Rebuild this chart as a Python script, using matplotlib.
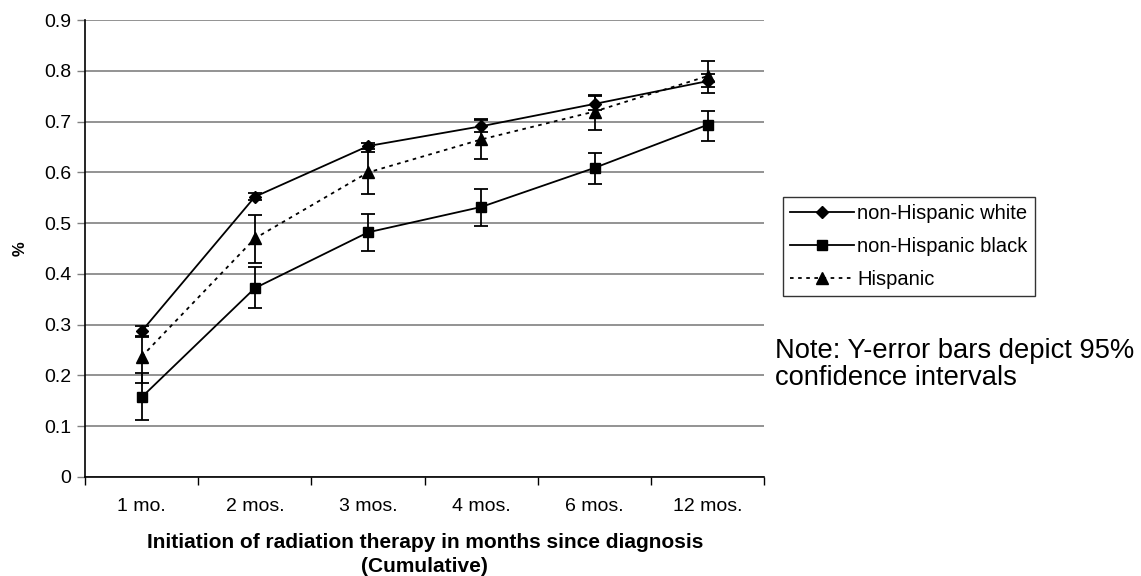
import numpy as np
import matplotlib.pyplot as plt

plt.rcParams['font.family'] = ['Liberation Sans', 'DejaVu Sans']

# categories and values
months = ['1 mo.', '2 mos.', '3 mos.', '4 mos.', '6 mos.', '12 mos.']

white = [0.287, 0.552, 0.652, 0.691, 0.735, 0.780]
white_lo = [0.278, 0.545, 0.646, 0.680, 0.722, 0.768]
white_hi = [0.297, 0.560, 0.658, 0.703, 0.750, 0.793]

black = [0.157, 0.372, 0.482, 0.532, 0.609, 0.694]
black_lo = [0.112, 0.333, 0.445, 0.495, 0.577, 0.662]
black_hi = [0.205, 0.413, 0.519, 0.567, 0.639, 0.721]

hisp = [0.237, 0.470, 0.600, 0.665, 0.720, 0.790]
hisp_lo = [0.185, 0.422, 0.557, 0.626, 0.684, 0.757]
hisp_hi = [0.276, 0.516, 0.641, 0.705, 0.753, 0.820]

series = [
    ('non-Hispanic white', white, white_lo, white_hi, 'D', '-', 6.5),
    ('non-Hispanic black', black, black_lo, black_hi, 's', '-', 7),
    ('Hispanic', hisp, hisp_lo, hisp_hi, '^', (0, (2, 2.5)), 8),
]

fig = plt.figure(figsize=(11.41, 5.76), dpi=100)
ax = fig.add_axes([0.0745, 0.172, 0.5955, 0.793])

x = np.arange(len(months))
handles = []
for name, v, lo, hi, mk, ls, ms in series:
    v = np.array(v)
    err = [v - np.array(lo), np.array(hi) - v]
    ax.errorbar(x, v, yerr=err, fmt='none', ecolor='black', elinewidth=1.3,
                capsize=5, capthick=1.3, zorder=3)
    h, = ax.plot(x, v, color='black', linestyle=ls, linewidth=1.3, marker=mk,
                 markersize=ms, markerfacecolor='black', markeredgecolor='black',
                 zorder=4, label=name)
    handles.append(h)

ax.set_xlim(-0.5, 5.5)
ax.set_ylim(0, 0.9)
ax.set_yticks(np.arange(0, 0.91, 0.1))
ax.set_yticklabels(['0', '0.1', '0.2', '0.3', '0.4', '0.5', '0.6', '0.7', '0.8', '0.9'])
ax.yaxis.grid(True, color='#808080', linewidth=1.2)
ax.set_axisbelow(True)

ax.set_xticks(x)
ax.set_xticklabels(months)
ax.set_xticks(np.arange(-0.5, 5.6, 1), minor=True)
ax.tick_params(axis='x', which='major', length=0, pad=15, labelsize=14)
ax.tick_params(axis='x', which='minor', length=6, width=1, color='black', direction='out')
ax.tick_params(axis='y', length=6, width=1, color='#808080', direction='out', labelsize=14, pad=4)

for s in ['top', 'right']:
    ax.spines[s].set_visible(False)
ax.spines['left'].set_color('black')
ax.spines['bottom'].set_color('black')
ax.spines['left'].set_linewidth(1.2)
ax.spines['bottom'].set_linewidth(1.2)

ax.set_xlabel('Initiation of radiation therapy in months since diagnosis\n(Cumulative)',
              fontsize=15, fontweight='bold', labelpad=13, linespacing=1.37)
ax.set_ylabel('%', fontsize=12, fontweight='bold', labelpad=12)

leg = fig.legend(handles=handles, loc='upper left', bbox_to_anchor=(0.686, 0.658),
                 borderaxespad=0, fontsize=14.5, frameon=True, fancybox=False,
                 edgecolor='black', handlelength=3.2, handletextpad=0.15,
                 borderpad=0.35, labelspacing=0.7)
leg.get_frame().set_linewidth(1.0)

fig.text(0.679, 0.413, 'Note: Y-error bars depict 95%\nconfidence intervals',
         fontsize=19.7, ha='left', va='top', linespacing=1.05)

fig.savefig('out.png', dpi=100)
